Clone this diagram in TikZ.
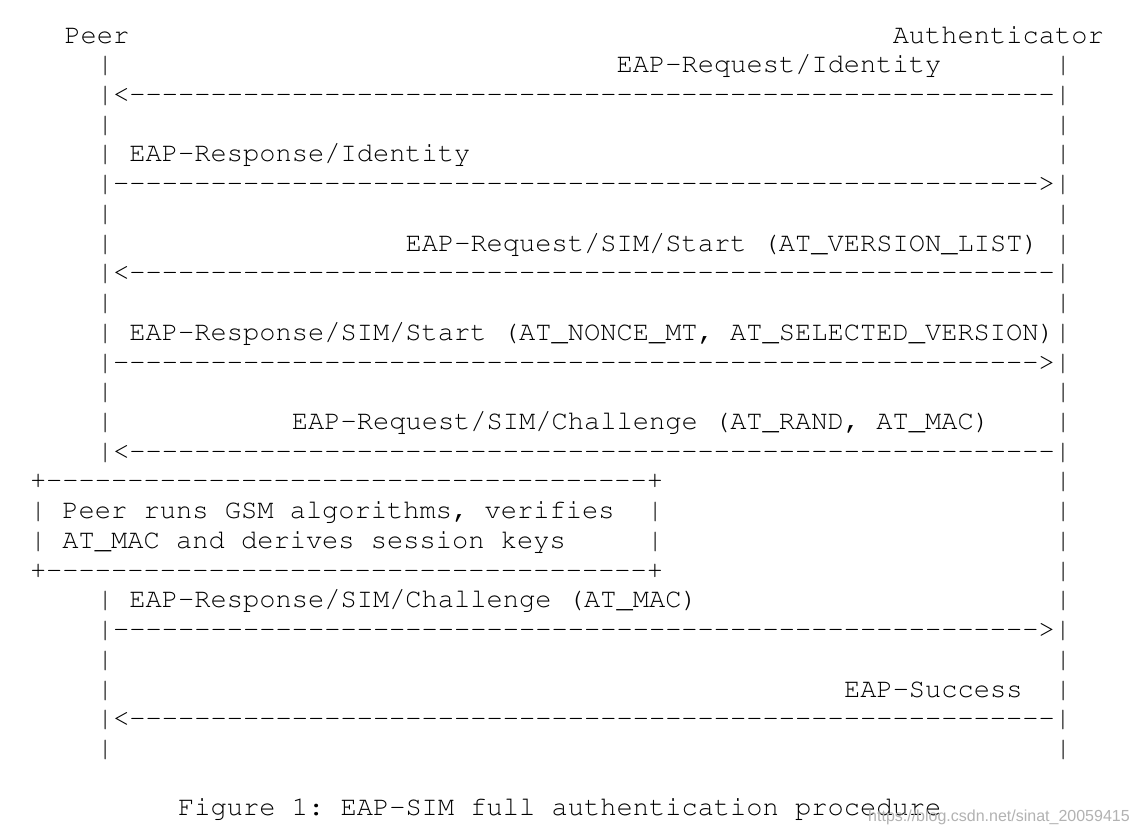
\documentclass[tikz,border=0pt]{standalone}
\usepackage[T1]{fontenc}
\usepackage{fontspec}
\newfontfamily\wmfont{Liberation Sans}
\ExplSyntaxOn
\cs_new_eq:NN \myrep \prg_replicate:nn
\ExplSyntaxOff
\newcommand\dsh[1]{\myrep{#1}{-\kern0pt}}
% position: x-origin, column, row
\newcommand\cpos[3]{({#1+#2*16.24},{43+#3*29.73})}
\frenchspacing
\begin{document}
\begin{tikzpicture}[x=1pt,y=-1pt,
  txt/.style={font=\frenchspacing\fontencoding{T1}\fontfamily{pcr}\fontseries{m}\fontshape{n}\fontsize{27.06}{29.73}\selectfont,
    inner sep=0pt, outer sep=0pt, anchor=base west, text=black},
  wm/.style={font=\wmfont\fontsize{16}{16}\selectfont,
    inner sep=0pt, anchor=base west, text=black!30}]
\useasboundingbox (0,0) rectangle (1138,835);
\fill[white] (0,0) rectangle (1138,835);
% header
\node[txt] (peer) at \cpos{64.5}{0}{0} {Peer};
\node[txt] (auth) at \cpos{64.5}{51}{0} {Authenticator};
% lifeline pieces
\foreach \r in {1,3,4,6,7,9,12,13,19,21,22,24}
  \node[txt] (lp\r) at \cpos{97}{0}{\r} {|};
\foreach \r in {1,3,4,6,7,9,12,13,15,16,17,18,19,21,22,24}
  \node[txt] (rp\r) at \cpos{97}{59}{\r} {|};
% messages
\node[txt] (m1) at \cpos{97}{32}{1} {EAP-Request/Identity};
\node[txt] (a1) at \cpos{97}{0}{2} {|<\dsh{57}|};
\node[txt] (m2) at \cpos{97}{2}{4} {EAP-Response/Identity};
\node[txt] (a2) at \cpos{97}{0}{5} {|\dsh{57}>|};
\node[txt] (m3) at \cpos{97}{19}{7} {EAP-Request/SIM/Start (AT\_VERSION\_LIST)};
\node[txt] (a3) at \cpos{97}{0}{8} {|<\dsh{57}|};
\node[txt] (m4) at \cpos{97}{0}{10} {| EAP-Response/SIM/Start (AT\_NONCE\_MT, AT\_SELECTED\_VERSION)|};
\node[txt] (a4) at \cpos{97}{0}{11} {|\dsh{57}>|};
\node[txt] (m5) at \cpos{97}{12}{13} {EAP-Request/SIM/Challenge (AT\_RAND, AT\_MAC)};
\node[txt] (a5) at \cpos{97}{0}{14} {|<\dsh{57}|};
% box
\node[txt] (bt) at \cpos{30}{0}{15} {+\dsh{37}+};
\node[txt] (b1) at \cpos{30}{0}{16} {| Peer runs GSM algorithms, verifies};
\node[txt] (b1r) at \cpos{30}{38}{16} {|};
\node[txt] (b2) at \cpos{30}{0}{17} {| AT\_MAC and derives session keys};
\node[txt] (b2r) at \cpos{30}{38}{17} {|};
\node[txt] (bb) at \cpos{30}{0}{18} {+\dsh{37}+};
% remaining messages
\node[txt] (m6) at \cpos{97}{2}{19} {EAP-Response/SIM/Challenge (AT\_MAC)};
\node[txt] (a6) at \cpos{97}{0}{20} {|\dsh{57}>|};
\node[txt] (m7) at \cpos{97}{46}{22} {EAP-Success};
\node[txt] (a7) at \cpos{97}{0}{23} {|<\dsh{57}|};
% caption
\node[txt] (cap) at \cpos{97}{5}{26} {Figure 1: EAP-SIM full authentication procedure};
\node[wm] (wmark) at (868,821) {https://blog.csdn.net/sinat\_20059415};
\end{tikzpicture}
\end{document}
